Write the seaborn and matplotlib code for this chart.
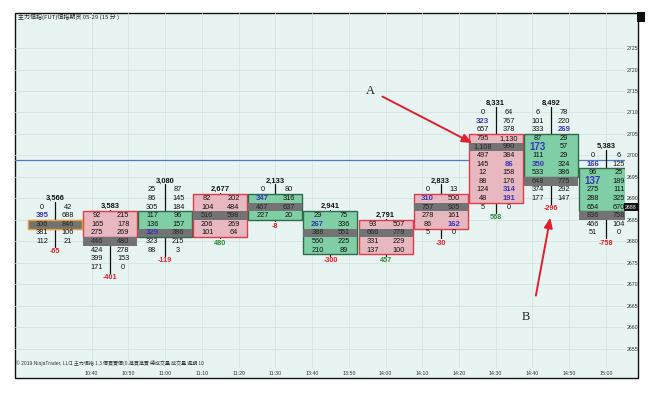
import matplotlib
matplotlib.use("Agg")
import matplotlib.pyplot as plt
import matplotlib.patches as mpatches
import seaborn as sns
import numpy as np

# ---------------- data ----------------
bar_minutes = [0, 15, 30, 45, 60, 75, 90, 105, 120, 135, 150]
tick_minutes = [10, 20, 30, 40, 50, 60, 70, 80, 90, 100, 110, 120, 130, 140, 150]
tick_labels = ["10:40", "10:50", "11:00", "11:10", "11:20", "11:30", "13:40", "13:50",
               "14:00", "14:10", "14:20", "14:30", "14:40", "14:50", "15:00"]
totals = [3566, 3583, 3080, 2677, 2133, 2941, 2791, 2833, 8331, 8492, 5383]
deltas = [-65, -401, -119, 480, -8, -300, 457, -30, 568, -296, -758]
top_price = [2688, 2686, 2692, 2690, 2692, 2686, 2684, 2692, 2710, 2710, 2700]
bids = [
    [0, 395, 306, 381, 112],
    [92, 165, 275, 446, 424, 399, 171],
    [25, 86, 305, 117, 136, 329, 323, 88],
    [82, 104, 516, 206, 101],
    [0, 347, 467, 227],
    [29, 267, 388, 560, 210],
    [93, 666, 331, 137],
    [0, 310, 757, 278, 86, 5],
    [0, 323, 657, 795, 1108, 497, 145, 12, 88, 124, 48, 5],
    [6, 101, 333, 87, 173, 111, 350, 533, 648, 374, 177],
    [0, 166, 96, 137, 275, 288, 654, 836, 466, 51],
]
asks = [
    [42, 688, 846, 106, 21],
    [215, 178, 269, 480, 278, 153, 0],
    [87, 145, 184, 96, 157, 386, 215, 3],
    [202, 484, 598, 269, 64],
    [80, 316, 637, 20],
    [75, 336, 551, 225, 89],
    [507, 779, 229, 100],
    [13, 500, 905, 161, 162, 0],
    [64, 767, 378, 1130, 990, 384, 86, 158, 176, 314, 191, 0],
    [78, 220, 269, 29, 57, 29, 324, 386, 775, 292, 147],
    [6, 125, 25, 189, 111, 325, 670, 758, 104, 0],
]
box_high = [2684, 2686, 2686, 2690, 2690, 2686, 2684, 2690, 2704, 2704, 2696]
box_low = [2684, 2682, 2682, 2682, 2686, 2678, 2678, 2684, 2690, 2696, 2688]
box_kind = ["flat", "down", "up", "down", "up", "up", "down", "down", "down", "up", "up"]
# highlighted (blue) numbers: (bar, side, row, big)
blue_cells = [(0, "b", 1, False), (2, "b", 5, False), (4, "b", 1, False), (5, "b", 1, False),
              (7, "b", 1, False), (7, "a", 4, False), (8, "b", 1, False), (8, "a", 6, False),
              (8, "a", 9, False), (8, "a", 10, False), (9, "a", 2, False), (9, "b", 4, True),
              (9, "b", 6, False), (10, "b", 1, False), (10, "b", 3, True)]
price_ticks = list(range(2655, 2726, 5))
ref_line_price = 2699
last_price = 2688
row_step = 2

# ---------------- style ----------------
sns.set_style("white")
plt.rcParams["font.family"] = ["Liberation Sans", "Noto Sans CJK SC", "DejaVu Sans"]

W, H = 660, 394
fig = plt.figure(figsize=(W / 100, H / 100), dpi=100)
fig.patch.set_facecolor("white")
bg = "#e8f4f2"
grid_c = "#d3e6e2"

# frame
fig.add_artist(mpatches.Rectangle((15 / W, 1 - 378 / H), 623 / W, 365 / H,
                                  transform=fig.transFigure, facecolor=bg,
                                  edgecolor="#111111", lw=1.0, zorder=0))
fig.add_artist(mpatches.Rectangle((637 / W, 1 - 22 / H), 8 / W, 10 / H,
                                  transform=fig.transFigure, facecolor="#111111",
                                  edgecolor="none", zorder=1))

ax = fig.add_axes([15 / W, 1 - 368 / H, 610 / W, 355 / H])
ax.patch.set_alpha(0)
ax.set_xlim(-10.89, 155.2)
ax.set_ylim(2650.58, 2733.14)
for s in ax.spines.values():
    s.set_visible(False)

ax.set_xticks(tick_minutes)
ax.set_xticklabels(tick_labels, fontsize=3.8, color="#333333")
ax.yaxis.tick_right()
ax.set_yticks(price_ticks)
ax.set_yticklabels([str(p) for p in price_ticks], fontsize=3.8, color="#333333")
ax.tick_params(axis="both", length=0)
ax.tick_params(axis="x", pad=2)
ax.tick_params(axis="y", pad=1)
for t in ax.get_yticklabels():
    t.set_horizontalalignment("left")
ax.grid(True, color=grid_c, lw=0.6)
ax.set_axisbelow(True)

# reference line
ax.axhline(ref_line_price, color="#5577c8", lw=0.9, zorder=1)

box_w = 14.7
col_off = 3.55
num_fs = 5.3
blue = "#3a36b8"
blue_map = {(b, s, r): big for b, s, r, big in blue_cells}

for i, t0 in enumerate(bar_minutes):
    n = len(bids[i])
    prices = [top_price[i] - row_step * k for k in range(n)]
    # wick
    ax.plot([t0, t0], [prices[0] + 1.3, prices[-1] - 1.3], color="#111111", lw=0.9, zorder=2)
    # body
    kind = box_kind[i]
    if kind == "up":
        fc, ec = "#80cea6", "#2f6a4c"
    elif kind == "down":
        fc, ec = "#e8b8c0", "#e23a48"
    else:
        fc, ec = "#737373", "#e8a23a"
    y0 = box_low[i] - 1
    h = box_high[i] - box_low[i] + 2
    ax.add_patch(mpatches.Rectangle((t0 - box_w / 2, y0), box_w, h, facecolor=fc,
                                    edgecolor=ec, lw=1.0, zorder=3))
    # poc row
    vols = np.array(bids[i]) + np.array(asks[i])
    k = int(np.argmax(vols))
    pk = prices[k]
    ax.add_patch(mpatches.Rectangle((t0 - box_w / 2, pk - 1), box_w, 2, facecolor="#737373",
                                    edgecolor=(ec if kind == "flat" else "none"),
                                    lw=1.0, zorder=4))
    # numbers
    for r in range(n):
        for side, vals, dx in (("b", bids[i], -col_off), ("a", asks[i], col_off)):
            v = vals[r]
            key = (i, side, r)
            color = "#262626" if r == k else "#111111"
            fs, fw = num_fs, "normal"
            if key in blue_map:
                color = blue
                fw = "bold"
                fs = 7 if blue_map[key] else 5.6
            ax.text(t0 + dx, prices[r], f"{v:,}", ha="center", va="center", fontsize=fs,
                    color=color, fontweight=fw, zorder=6)
    # totals and delta
    ax.text(t0, prices[0] + 2.1, f"{totals[i]:,}", ha="center", va="center",
            fontsize=5.4, fontweight="bold", color="#111111", zorder=6)
    dcol = "#e8202a" if deltas[i] < 0 else "#2a8a3a"
    ax.text(t0, prices[-1] - 2.4, f"{deltas[i]}", ha="center", va="center",
            fontsize=5.2, fontweight="bold", color=dcol, zorder=6)

# last price box on the axis
ax.text(1.0, last_price, str(last_price), transform=ax.get_yaxis_transform(),
        ha="left", va="center", fontsize=3.8, color="white",
        bbox=dict(boxstyle="square,pad=0.25", fc="#111111", ec="none"), zorder=7,
        clip_on=False)

# annotations A and B
ax.annotate("", xy=(114.3, 2702.6), xytext=(88.5, 2714.0),
            arrowprops=dict(arrowstyle="-|>,head_length=0.6,head_width=0.25",
                            color="#e0202e", lw=1.4), zorder=8)
ax.text(85.8, 2714.9, "A", fontsize=9, family="Liberation Serif", ha="center",
        va="center", color="#222222", zorder=8)
ax.annotate("", xy=(135.0, 2686.2), xytext=(130.8, 2666.8),
            arrowprops=dict(arrowstyle="-|>,head_length=0.6,head_width=0.25",
                            color="#e0202e", lw=1.4), zorder=8)
ax.text(128.2, 2662.4, "B", fontsize=9, family="Liberation Serif", ha="center",
        va="center", color="#222222", zorder=8)

# texts
fig.text(18 / W, 1 - 17 / H, "主力恒指(FUT)恒指期货 05-29 (15 分 )", fontsize=4.3,
         family=["Noto Sans CJK SC", "DejaVu Sans"], va="center", color="#222222")
fig.text(16 / W, 1 - 363 / H, "© 2019 NinjaTrader, LLC", fontsize=3.6, va="center",
         color="#333333")
fig.text(70 / W, 1 - 363 / H, "1 主力恒指 1.3 價買賣價(0.進買進賣 總成交量 成交量 週期 10",
         fontsize=3.6, family=["Noto Sans CJK SC", "DejaVu Sans"], va="center",
         color="#333333")

fig.savefig("out.png", dpi=100, facecolor="white")
